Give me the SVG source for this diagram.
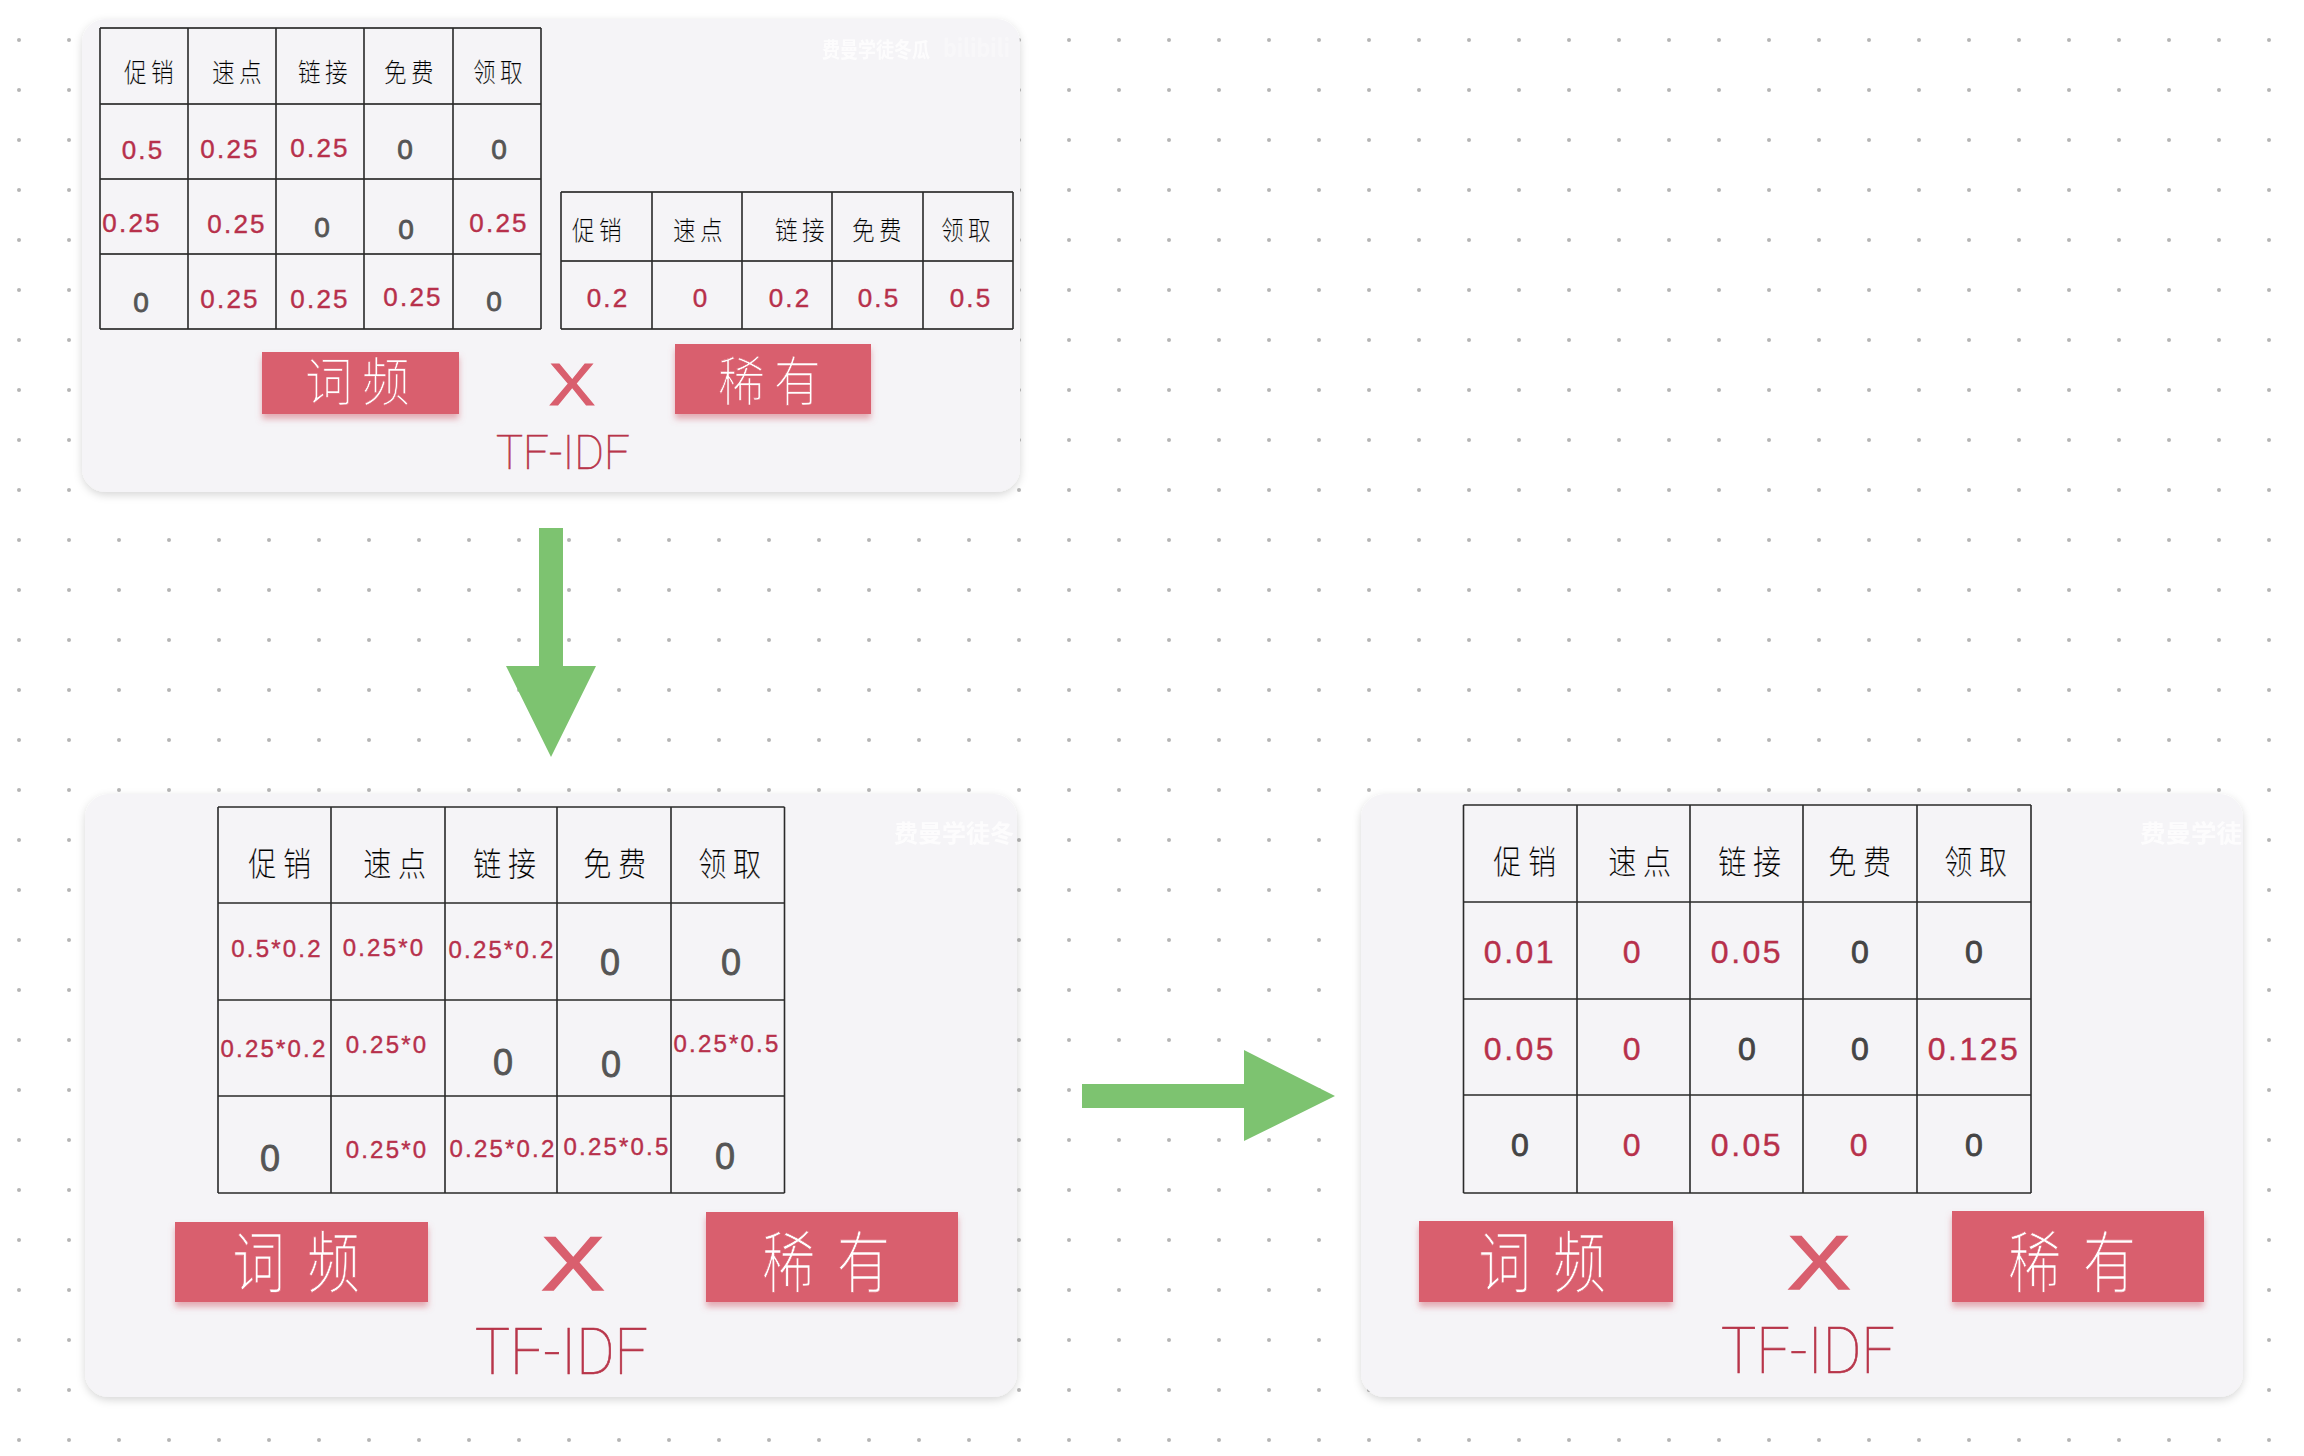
<svg xmlns="http://www.w3.org/2000/svg" width="2304" height="1456" viewBox="0 0 2304 1456">
<defs>
<pattern id="dots" x="-31" y="-10" width="50" height="50" patternUnits="userSpaceOnUse"><circle cx="50" cy="50" r="2" fill="#b5b5b5"/><circle cx="0" cy="50" r="2" fill="#b5b5b5"/><circle cx="50" cy="0" r="2" fill="#b5b5b5"/><circle cx="0" cy="0" r="2" fill="#b5b5b5"/></pattern>
<filter id="ps" x="-5%" y="-5%" width="110%" height="112%"><feDropShadow dx="0" dy="3" stdDeviation="4" flood-color="#000" flood-opacity=".16"/></filter>
<filter id="bs" x="-5%" y="-10%" width="110%" height="130%"><feDropShadow dx="0" dy="5" stdDeviation="3" flood-color="#d0606e" flood-opacity=".5"/></filter>
</defs>
<style>
.panel{fill:#f5f4f7;filter:url(#ps)}
.grid{stroke:#2a2a2a;stroke-width:1.6;fill:none}
.gridh{stroke:#4a4a4a;stroke-width:2.2;fill:none}
.h,.h2{font-family:"Noto Sans CJK SC","Noto Sans",sans-serif;font-weight:300;fill:#000;stroke:#f5f4f7;stroke-width:.12;text-anchor:middle}
.h{font-size:26px;letter-spacing:5px}
.h2{font-size:33px;letter-spacing:8px}
.n,.z{font-family:"Liberation Sans",sans-serif;text-anchor:middle}
.n{fill:#b7304b;stroke:#b7304b;stroke-width:.4;letter-spacing:2.2px}
.z{fill:#555;stroke:#555;stroke-width:.8}
.s1{font-size:26px}.s2{font-size:24px}.s3{font-size:32px;letter-spacing:2.5px}
.z1{font-size:28px}.z2{font-size:36px}.z3{font-size:32px;fill:#444;stroke:#444}
.btn{fill:#d95f6e;filter:url(#bs)}
.bt{font-family:"Noto Sans CJK SC","Noto Sans",sans-serif;font-weight:300;fill:#fff;stroke:#d95f6e;stroke-width:.6;text-anchor:middle}
.b1{font-size:50px;letter-spacing:10px}
.b2{font-size:62px;letter-spacing:26px}
.x{font-family:"Liberation Sans",sans-serif;fill:#d95f6e;stroke:#d95f6e;text-anchor:middle}
.tf{font-family:Roboto,"Liberation Sans",sans-serif;font-weight:100;fill:#b8354a;stroke:#b8354a;stroke-width:.7}
.wm{font-family:"Noto Sans CJK SC",sans-serif;font-weight:700;fill:#fff;opacity:.8}
.arrow{fill:#7dc370}
</style>
<rect width="2304" height="1456" fill="#fff"/>
<rect width="2304" height="1456" fill="url(#dots)"/>

<g id="panel-top">
<rect class="panel" x="82" y="19" width="938" height="473" rx="24"/>
<path class="gridh" d="M100 28H541M100 104H541M100 179H541M100 254H541M100 329H541"/>
<path class="grid" d="M100 28V329M188 28V329M276 28V329M364 28V329M453 28V329M541 28V329"/>
<g class="table1-text">
<text class="h" transform="translate(151,82) scale(.87,1)">促销</text>
<text class="h" transform="translate(239,82) scale(.87,1)">速点</text>
<text class="h" transform="translate(325,82) scale(.87,1)">链接</text>
<text class="h" transform="translate(411,82) scale(.87,1)">免费</text>
<text class="h" transform="translate(500,82) scale(.87,1)">领取</text>
<text class="n s1" x="143" y="159">0.5</text>
<text class="n s1" x="230" y="158">0.25</text>
<text class="n s1" x="320" y="157">0.25</text>
<text class="z z1" x="405" y="159">0</text>
<text class="z z1" x="499" y="159">0</text>
<text class="n s1" x="132" y="232">0.25</text>
<text class="n s1" x="237" y="233">0.25</text>
<text class="z z1" x="322" y="237">0</text>
<text class="z z1" x="406" y="239">0</text>
<text class="n s1" x="499" y="232">0.25</text>
<text class="z z1" x="141" y="312">0</text>
<text class="n s1" x="230" y="308">0.25</text>
<text class="n s1" x="320" y="308">0.25</text>
<text class="n s1" x="413" y="306">0.25</text>
<text class="z z1" x="494" y="311">0</text>
</g>
<path class="gridh" d="M561 192H1013M561 261H1013M561 329H1013"/>
<path class="grid" d="M561 192V329M652 192V329M742 192V329M832 192V329M923 192V329M1013 192V329"/>
<g class="table2-text">
<text class="h" transform="translate(599,240) scale(.87,1)">促销</text>
<text class="h" transform="translate(700,240) scale(.87,1)">速点</text>
<text class="h" transform="translate(802,240) scale(.87,1)">链接</text>
<text class="h" transform="translate(879,240) scale(.87,1)">免费</text>
<text class="h" transform="translate(968,240) scale(.87,1)">领取</text>
<text class="n s1" x="608" y="307">0.2</text>
<text class="n s1" x="701" y="307">0</text>
<text class="n s1" x="790" y="307">0.2</text>
<text class="n s1" x="879" y="307">0.5</text>
<text class="n s1" x="971" y="307">0.5</text>
</g>
<rect class="btn" x="262" y="352" width="197" height="62"/>
<text class="bt b1" transform="translate(362,401) scale(.95,1.05)">词频</text>
<rect class="btn" x="675" y="344" width="196" height="70"/>
<text class="bt b1" transform="translate(774,401) scale(.93,1.08)">稀有</text>
<text class="x" transform="translate(572,405) scale(1.15,1)" font-size="60" stroke-width="1.200">X</text>
<text class="tf" x="496" y="469" font-size="49" textLength="134" lengthAdjust="spacingAndGlyphs">TF-IDF</text>
<text class="wm" x="822" y="57" font-size="21" textLength="108" lengthAdjust="spacingAndGlyphs">费曼学徒冬瓜</text>
<text class="wm" x="943" y="57" font-size="24" textLength="67" lengthAdjust="spacingAndGlyphs" style="opacity:.3">bilibili</text>
</g>

<g id="panel-middle">
<rect class="panel" x="85" y="794" width="932" height="603" rx="24"/>
<path class="grid" d="M218 807H784.500M218 903H784.500M218 1000H784.500M218 1096H784.500M218 1193H784.500M218 807V1193M331 807V1193M445 807V1193M557 807V1193M671 807V1193M784.500 807V1193"/>
<g class="table-text">
<text class="h2" transform="translate(283,876) scale(.85,1)">促销</text>
<text class="h2" transform="translate(398,876) scale(.85,1)">速点</text>
<text class="h2" transform="translate(508,876) scale(.85,1)">链接</text>
<text class="h2" transform="translate(618,876) scale(.85,1)">免费</text>
<text class="h2" transform="translate(733,876) scale(.85,1)">领取</text>
<text class="n s2" x="277" y="957">0.5*0.2</text>
<text class="n s2" x="384" y="956">0.25*0</text>
<text class="n s2" x="502" y="958">0.25*0.2</text>
<text class="z z2" x="610" y="975">0</text>
<text class="z z2" x="731" y="975">0</text>
<text class="n s2" x="274" y="1057">0.25*0.2</text>
<text class="n s2" x="387" y="1053">0.25*0</text>
<text class="z z2" x="503" y="1075">0</text>
<text class="z z2" x="611" y="1077">0</text>
<text class="n s2" x="727" y="1052">0.25*0.5</text>
<text class="z z2" x="270" y="1171">0</text>
<text class="n s2" x="387" y="1158">0.25*0</text>
<text class="n s2" x="503" y="1157">0.25*0.2</text>
<text class="n s2" x="617" y="1155">0.25*0.5</text>
<text class="z z2" x="725" y="1169">0</text>
</g>
<rect class="btn" x="175" y="1222" width="253" height="80"/>
<text class="bt b2" transform="translate(307,1287) scale(.85,1.08)">词频</text>
<rect class="btn" x="706" y="1212" width="252" height="90"/>
<text class="bt b2" transform="translate(837,1287) scale(.85,1.08)">稀有</text>
<text class="x" transform="translate(573,1290) scale(1.25,1)" font-size="76" stroke-width="1.500">X</text>
<text class="tf" x="475" y="1374" font-size="64" textLength="173" lengthAdjust="spacingAndGlyphs">TF-IDF</text>
<text class="wm" x="894" y="842" font-size="24" textLength="120" lengthAdjust="spacingAndGlyphs">费曼学徒冬</text>
</g>

<g id="panel-right">
<rect class="panel" x="1361" y="794" width="882" height="603" rx="24"/>
<path class="grid" d="M1463.500 805H2031M1463.500 902H2031M1463.500 999H2031M1463.500 1095H2031M1463.500 1193H2031M1463.500 805V1193M1577 805V1193M1690 805V1193M1803 805V1193M1917 805V1193M2031 805V1193"/>
<g class="table-text">
<text class="h2" transform="translate(1528,874) scale(.85,1)">促销</text>
<text class="h2" transform="translate(1643,874) scale(.85,1)">速点</text>
<text class="h2" transform="translate(1753,874) scale(.85,1)">链接</text>
<text class="h2" transform="translate(1863,874) scale(.85,1)">免费</text>
<text class="h2" transform="translate(1979,874) scale(.85,1)">领取</text>
<text class="n s3" x="1520" y="963">0.01</text>
<text class="n s3" x="1633" y="963">0</text>
<text class="n s3" x="1747" y="963">0.05</text>
<text class="z z3" x="1860" y="963">0</text>
<text class="z z3" x="1974" y="963">0</text>
<text class="n s3" x="1520" y="1060">0.05</text>
<text class="n s3" x="1633" y="1060">0</text>
<text class="z z3" x="1747" y="1060">0</text>
<text class="z z3" x="1860" y="1060">0</text>
<text class="n s3" x="1974" y="1060">0.125</text>
<text class="z z3" x="1520" y="1156">0</text>
<text class="n s3" x="1633" y="1156">0</text>
<text class="n s3" x="1747" y="1156">0.05</text>
<text class="n s3" x="1860" y="1156">0</text>
<text class="z z3" x="1974" y="1156">0</text>
</g>
<rect class="btn" x="1419" y="1221" width="254" height="81"/>
<text class="bt b2" transform="translate(1553,1287) scale(.85,1.08)">词频</text>
<rect class="btn" x="1952" y="1211" width="252" height="91"/>
<text class="bt b2" transform="translate(2083,1287) scale(.85,1.08)">稀有</text>
<text class="x" transform="translate(1819,1289) scale(1.25,1)" font-size="76" stroke-width="1.500">X</text>
<text class="tf" x="1721" y="1373" font-size="64" textLength="174" lengthAdjust="spacingAndGlyphs">TF-IDF</text>
<text class="wm" x="2140" y="842" font-size="24" textLength="102" lengthAdjust="spacingAndGlyphs">费曼学徒</text>
</g>

<g id="connectors">
<polygon class="arrow" points="539,528 563,528 563,666 596,666 551,757 506,666 539,666"/>
<polygon class="arrow" points="1082,1084 1244,1084 1244,1050 1335,1096 1244,1141 1244,1108 1082,1108"/>
</g>
</svg>
